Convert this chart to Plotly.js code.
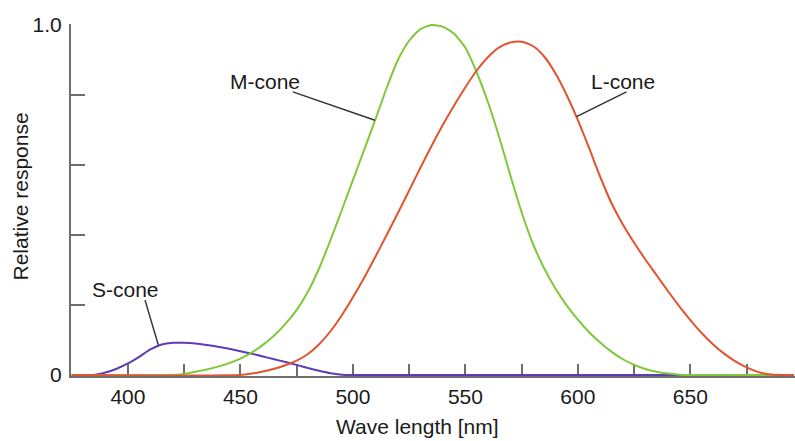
<!DOCTYPE html>
<html>
<head>
<meta charset="utf-8">
<script src="https://cdn.plot.ly/plotly-3.0.1.min.js"></script>
<style>html,body{margin:0;padding:0;background:#fff;}#chart{width:795px;height:441px;}</style>
</head>
<body>
<div id="chart"></div>
<script>
// Wavelengths (nm) and relative responses
const sWave = [375, 385, 390, 395, 400, 405, 410, 415, 420, 425, 430, 435, 440, 445, 450, 455, 460, 465, 470, 475, 480, 485, 490, 495, 500, 696];
const sResp = [0, 0, 0.007, 0.018, 0.033, 0.052, 0.073, 0.087, 0.092, 0.092, 0.09, 0.086, 0.081, 0.075, 0.068, 0.061, 0.053, 0.045, 0.037, 0.029, 0.02, 0.012, 0.005, 0.001, 0, 0];

const mWave = [375, 420, 425, 430, 435, 440, 445, 450, 455, 460, 465, 470, 475, 480, 485, 490, 495, 500, 505, 510, 515, 520, 525, 530, 535, 540, 545, 550, 555, 560, 565, 570, 575, 580, 585, 590, 595, 600, 605, 610, 615, 620, 625, 630, 635, 640, 645, 650, 696];
const mResp = [0, 0, 0.003, 0.009, 0.016, 0.024, 0.034, 0.047, 0.064, 0.086, 0.113, 0.146, 0.186, 0.238, 0.305, 0.385, 0.47, 0.557, 0.643, 0.73, 0.82, 0.9, 0.955, 0.988, 1.0, 0.995, 0.975, 0.935, 0.865, 0.78, 0.68, 0.57, 0.465, 0.375, 0.305, 0.247, 0.199, 0.158, 0.122, 0.092, 0.066, 0.045, 0.029, 0.017, 0.009, 0.004, 0.001, 0, 0];

const lWave = [375, 450, 455, 460, 465, 470, 475, 480, 485, 490, 495, 500, 505, 510, 515, 520, 525, 530, 535, 540, 545, 550, 555, 560, 565, 570, 575, 580, 585, 590, 595, 600, 605, 610, 615, 620, 625, 630, 635, 640, 645, 650, 655, 660, 665, 670, 675, 680, 685, 690, 696];
const lResp = [0, 0, 0.004, 0.01, 0.018, 0.028, 0.041, 0.06, 0.088, 0.125, 0.17, 0.222, 0.278, 0.338, 0.4, 0.463, 0.527, 0.592, 0.655, 0.715, 0.77, 0.822, 0.87, 0.908, 0.936, 0.95, 0.952, 0.94, 0.91, 0.862, 0.8, 0.728, 0.648, 0.565, 0.49, 0.43, 0.378, 0.33, 0.285, 0.24, 0.197, 0.157, 0.12, 0.088, 0.061, 0.039, 0.022, 0.009, 0.002, 0, 0];

const xTickVals = [400, 425, 450, 475, 500, 525, 550, 575, 600, 625, 650, 675];
const xTickText = ['400', '', '450', '', '500', '', '550', '', '600', '', '650', ''];
const yTickVals = [0, 0.2, 0.4, 0.6, 0.8, 1.0];
const yTickText = ['0', '', '', '', '', '1.0'];

// Curve labels and their leader lines
const labelNames = ['M-cone', 'L-cone', 'S-cone'];
const labelPos = [[461.1, 0.84], [620.0, 0.84], [398.7, 0.243]];
const leaderFrom = [[473.3, 0.809], [621.6, 0.809], [407.6, 0.214]];
const leaderTo = [[509.8, 0.728], [599.4, 0.738], [413.5, 0.086]];

const axisGray = '#6e6e6e';
const FONT = 'Liberation Sans, Arial, Helvetica, sans-serif';
const FS = 21;

const traces = [
  {x: sWave, y: sResp, mode: 'lines', line: {color: '#5b3db5', width: 2, shape: 'spline', smoothing: 0.6}, hoverinfo: 'skip'},
  {x: mWave, y: mResp, mode: 'lines', line: {color: '#7ec83a', width: 2, shape: 'spline', smoothing: 0.6}, hoverinfo: 'skip'},
  {x: lWave, y: lResp, mode: 'lines', line: {color: '#e2542f', width: 2, shape: 'spline', smoothing: 0.6}, hoverinfo: 'skip'}
];

const annotations = labelNames.map((t, i) => ({
  text: t, x: labelPos[i][0], y: labelPos[i][1], xref: 'x', yref: 'y',
  showarrow: false, xanchor: 'center', yanchor: 'middle',
  font: {family: FONT, size: FS, color: '#1a1a1a'}
}));
annotations.push({
  text: 'Wave length [nm]', x: 528.9, y: 0, xref: 'x', yref: 'paper',
  yshift: -50, showarrow: false, xanchor: 'center', yanchor: 'middle',
  font: {family: FONT, size: FS, color: '#1a1a1a'}
});
annotations.push({
  text: 'Relative response', x: 0, y: 0.51, xref: 'paper', yref: 'paper',
  xshift: -51, textangle: -90, showarrow: false, xanchor: 'center', yanchor: 'middle',
  font: {family: FONT, size: FS, color: '#1a1a1a'}
});

const shapes = labelNames.map((t, i) => ({
  type: 'line', xref: 'x', yref: 'y',
  x0: leaderFrom[i][0], y0: leaderFrom[i][1], x1: leaderTo[i][0], y1: leaderTo[i][1],
  line: {color: '#333333', width: 1.5}
}));

const layout = {
  width: 795, height: 441,
  margin: {l: 71, r: 0, t: 24, b: 65},
  paper_bgcolor: '#ffffff', plot_bgcolor: '#ffffff',
  showlegend: false,
  font: {family: FONT, size: FS, color: '#1a1a1a'},
  xaxis: {
    range: [374.7, 696.5],
    tickmode: 'array', tickvals: xTickVals, ticktext: xTickText,
    ticks: 'inside', ticklen: 12, tickwidth: 2, tickcolor: axisGray,
    showline: true, linecolor: axisGray, linewidth: 2,
    showgrid: false, zeroline: false, layer: 'below traces',
    ticklabelstandoff: 1,
    tickfont: {family: FONT, size: FS, color: '#1a1a1a'}
  },
  yaxis: {
    range: [-0.00286, 1.00286],
    tickmode: 'array', tickvals: yTickVals, ticktext: yTickText,
    ticks: 'inside', ticklen: 14, tickwidth: 2, tickcolor: axisGray,
    showline: true, linecolor: axisGray, linewidth: 2,
    showgrid: false, zeroline: false, layer: 'below traces',
    ticklabelstandoff: 3,
    tickfont: {family: FONT, size: FS, color: '#1a1a1a'}
  },
  annotations: annotations,
  shapes: shapes
};

Plotly.newPlot('chart', traces, layout, {staticPlot: true, displayModeBar: false});
</script>
</body>
</html>
